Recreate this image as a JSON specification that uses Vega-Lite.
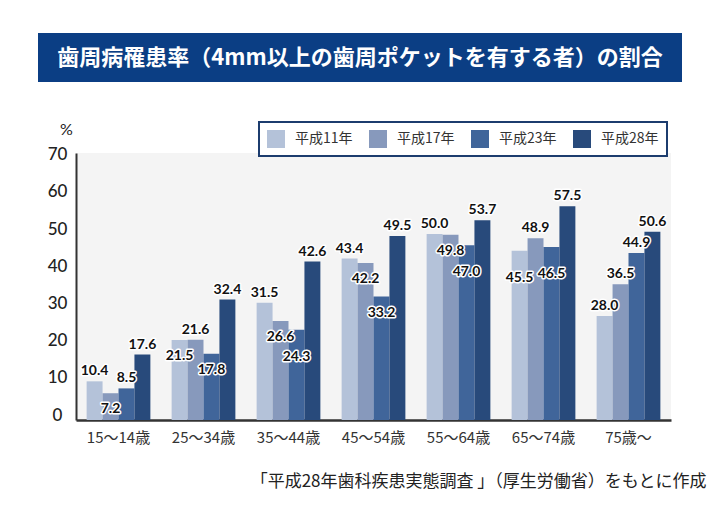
{
  "$schema": "https://vega.github.io/schema/vega-lite/v6.json",
  "background": "white",
  "padding": {"left": 38, "top": 33, "right": 5, "bottom": 5},
  "spacing": 39,
  "bounds": "full",
  "config": {"font": "Noto Sans CJK JP", "view": {"stroke": null}, "legend": {"strokeWidth": 2}},
  "resolve": {"scale": {"color": "independent"}, "legend": {"color": "independent"}},
  "vconcat": [
    {
      "width": 644,
      "height": 49,
      "view": {"fill": "#0b3e84", "stroke": null},
      "data": {"values": [{"t": "歯周病罹患率（4mm以上の歯周ポケットを有する者）の割合"}]},
      "mark": {"type": "text", "color": "white", "fontSize": 22, "fontWeight": "bold", "font": "Noto Sans CJK JP", "align": "center", "baseline": "middle"},
      "encoding": {"text": {"field": "t", "type": "nominal"}}
    },
    {
      "spacing": 8,
      "bounds": "full",
      "resolve": {"scale": {"color": "independent"}, "legend": {"color": "independent"}},
      "hconcat": [
        {
          "width": 1,
          "height": 267,
          "data": {"values": []},
          "mark": {"type": "text"},
          "encoding": {}
        },
        {
          "width": 595,
          "height": 267,
          "view": {"fill": "#f4f4f4", "stroke": null},
          "data": {"values": [
            {"age": "15～14歳", "year": "平成11年", "value": 10.4},
            {"age": "15～14歳", "year": "平成17年", "value": 7.2},
            {"age": "15～14歳", "year": "平成23年", "value": 8.5},
            {"age": "15～14歳", "year": "平成28年", "value": 17.6},
            {"age": "25～34歳", "year": "平成11年", "value": 21.5},
            {"age": "25～34歳", "year": "平成17年", "value": 21.6},
            {"age": "25～34歳", "year": "平成23年", "value": 17.8},
            {"age": "25～34歳", "year": "平成28年", "value": 32.4},
            {"age": "35～44歳", "year": "平成11年", "value": 31.5},
            {"age": "35～44歳", "year": "平成17年", "value": 26.6},
            {"age": "35～44歳", "year": "平成23年", "value": 24.3},
            {"age": "35～44歳", "year": "平成28年", "value": 42.6},
            {"age": "45～54歳", "year": "平成11年", "value": 43.4},
            {"age": "45～54歳", "year": "平成17年", "value": 42.2},
            {"age": "45～54歳", "year": "平成23年", "value": 33.2},
            {"age": "45～54歳", "year": "平成28年", "value": 49.5},
            {"age": "55～64歳", "year": "平成11年", "value": 50.0},
            {"age": "55～64歳", "year": "平成17年", "value": 49.8},
            {"age": "55～64歳", "year": "平成23年", "value": 47.0},
            {"age": "55～64歳", "year": "平成28年", "value": 53.7},
            {"age": "65～74歳", "year": "平成11年", "value": 45.5},
            {"age": "65～74歳", "year": "平成17年", "value": 48.9},
            {"age": "65～74歳", "year": "平成23年", "value": 46.5},
            {"age": "65～74歳", "year": "平成28年", "value": 57.5},
            {"age": "75歳～", "year": "平成11年", "value": 28.0},
            {"age": "75歳～", "year": "平成17年", "value": 36.5},
            {"age": "75歳～", "year": "平成23年", "value": 44.9},
            {"age": "75歳～", "year": "平成28年", "value": 50.6}
          ]},
          "transform": [
            {"calculate": "datum.age + '|' + datum.year", "as": "key"},
            {"calculate": "indexof(['15～14歳|平成17年','25～34歳|平成11年','25～34歳|平成23年','35～44歳|平成17年','45～54歳|平成17年','45～54歳|平成23年','55～64歳|平成17年'], datum.key) >= 0 ? 'inside' : (indexof(['35～44歳|平成23年','55～64歳|平成23年','65～74歳|平成11年','65～74歳|平成23年'], datum.key) >= 0 ? 'deep' : 'above')", "as": "place"}
          ],
          "encoding": {
            "x": {
              "field": "age", "type": "nominal",
              "sort": ["15～14歳", "25～34歳", "35～44歳", "45～54歳", "55～64歳", "65～74歳", "75歳～"],
              "scale": {"paddingInner": 0.25, "paddingOuter": 0.125},
              "axis": {
                "title": "「平成28年歯科疾患実態調査 」（厚生労働省）をもとに作成",
                "titleX": 630, "titleY": 61, "titleAlign": "right", "titleBaseline": "middle",
                "titleFontSize": 17, "titleFontWeight": "normal", "titleColor": "#222", "titleFont": "Noto Sans CJK JP",
                "labelAngle": 0, "labelFontSize": 15, "labelColor": "#333", "labelPadding": 10,
                "labelFont": "Noto Sans CJK JP",
                "ticks": false, "domainColor": "#333", "domainWidth": 2.5
              }
            },
            "xOffset": {
              "field": "year", "type": "nominal",
              "sort": ["平成11年", "平成17年", "平成23年", "平成28年"],
              "scale": {"paddingInner": 0, "paddingOuter": 0}
            },
            "y": {
              "field": "value", "type": "quantitative",
              "scale": {"domain": [0, 71.8], "nice": false},
              "axis": {
                "values": [0, 10, 20, 30, 40, 50, 60, 70],
                "title": "%", "titleAngle": 0, "titleX": -10, "titleY": -24,
                "titleAlign": "center", "titleBaseline": "middle",
                "titleFontSize": 16, "titleFontWeight": "normal", "titleColor": "#222", "titleFont": "Lato",
                "grid": false, "ticks": false, "domainColor": "#333", "domainWidth": 2,
                "labelFont": "Lato", "labelFontSize": 17, "labelFontWeight": 500, "labelColor": "#222",
                "labelAlign": "center", "labelPadding": 19, "labelOffset": -5
              }
            }
          },
          "layer": [
            {
              "mark": {"type": "bar"},
              "encoding": {
                "color": {
                  "field": "year", "type": "nominal",
                  "sort": ["平成11年", "平成17年", "平成23年", "平成28年"],
                  "scale": {"range": ["#b4c2d9", "#8799bc", "#40659a", "#284a7b"]},
                  "legend": {
                    "orient": "none", "legendX": 183, "legendY": -31,
                    "direction": "horizontal", "columns": 4, "title": null,
                    "fillColor": "white", "strokeColor": "#1c3c6e",
                    "padding": 8, "symbolType": "square", "symbolSize": 324,
                    "symbolStrokeWidth": 0, "symbolOpacity": 1,
                    "labelFontSize": 14, "labelColor": "#333", "labelOffset": 10,
                    "columnPadding": 16, "labelFont": "Noto Sans CJK JP"
                  }
                }
              }
            },
            {
              "transform": [{"filter": "datum.place == 'above'"}],
              "mark": {"type": "text", "baseline": "middle", "dy": -10, "font": "Lato", "fontSize": 14, "fontWeight": "bold", "stroke": "white", "strokeWidth": 3, "strokeJoin": "round", "fill": "white"},
              "encoding": {"text": {"field": "value", "type": "quantitative", "format": ".1f"}}
            },
            {
              "transform": [{"filter": "datum.place == 'above'"}],
              "mark": {"type": "text", "baseline": "middle", "dy": -10, "font": "Lato", "fontSize": 14, "fontWeight": "bold", "fill": "#111"},
              "encoding": {"text": {"field": "value", "type": "quantitative", "format": ".1f"}}
            },
            {
              "transform": [{"filter": "datum.place == 'inside'"}],
              "mark": {"type": "text", "baseline": "middle", "dy": 16, "font": "Lato", "fontSize": 14, "fontWeight": "bold", "stroke": "white", "strokeWidth": 3, "strokeJoin": "round", "fill": "white"},
              "encoding": {"text": {"field": "value", "type": "quantitative", "format": ".1f"}}
            },
            {
              "transform": [{"filter": "datum.place == 'inside'"}],
              "mark": {"type": "text", "baseline": "middle", "dy": 16, "font": "Lato", "fontSize": 14, "fontWeight": "bold", "fill": "#111"},
              "encoding": {"text": {"field": "value", "type": "quantitative", "format": ".1f"}}
            },
            {
              "transform": [{"filter": "datum.place == 'deep'"}],
              "mark": {"type": "text", "baseline": "middle", "dy": 27, "font": "Lato", "fontSize": 14, "fontWeight": "bold", "stroke": "white", "strokeWidth": 3, "strokeJoin": "round", "fill": "white"},
              "encoding": {"text": {"field": "value", "type": "quantitative", "format": ".1f"}}
            },
            {
              "transform": [{"filter": "datum.place == 'deep'"}],
              "mark": {"type": "text", "baseline": "middle", "dy": 27, "font": "Lato", "fontSize": 14, "fontWeight": "bold", "fill": "#111"},
              "encoding": {"text": {"field": "value", "type": "quantitative", "format": ".1f"}}
            }
          ]
        }
      ]
    }
  ]
}
